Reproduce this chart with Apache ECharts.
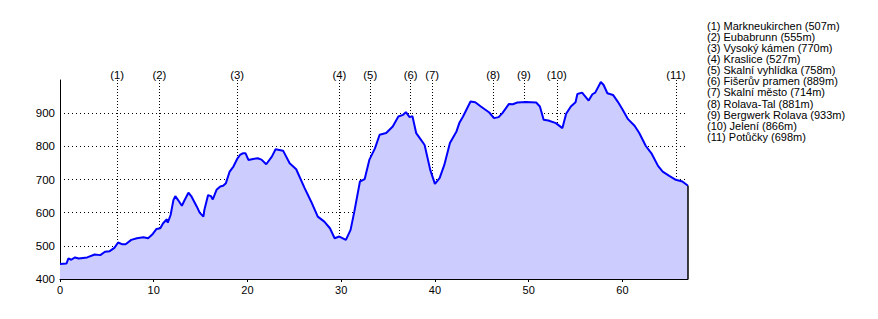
<!DOCTYPE html>
<html>
<head>
<meta charset="utf-8">
<script src="https://cdn.jsdelivr.net/npm/echarts@6/dist/echarts.min.js"></script>
<style>
html,body{margin:0;padding:0;background:#fff;}
#c{width:878px;height:319px;}
</style>
</head>
<body>
<div id="c"></div>
<script>
// distance along route (km)
var distKm = [0,0.7,0.9,1.2,1.6,2.0,2.9,3.7,4.3,4.8,5.3,5.8,6.2,6.6,7.0,7.6,8.2,8.9,9.4,9.9,
  10.3,10.7,11.0,11.4,11.5,11.8,12.1,12.3,12.6,13.0,13.3,13.7,14.0,14.6,14.9,15.3,15.4,15.8,16.1,16.3,
  16.7,17.1,17.4,17.7,18.1,18.5,18.9,19.2,19.5,19.8,20.1,20.6,21.1,21.5,22.0,22.6,23.0,23.8,24.5,25.2,
  26.1,26.8,27.5,28.2,28.8,29.3,29.8,30.5,31.0,31.4,32.0,32.5,33.0,33.6,34.1,34.8,35.5,36.1,36.6,36.9,
  37.3,37.6,38.0,38.5,38.9,39.5,40.0,40.5,41.0,41.6,42.3,42.6,43.0,43.8,44.3,44.9,45.5,45.8,46.3,46.8,
  47.2,47.9,48.3,48.8,49.7,50.8,51.2,51.6,52.1,52.9,53.6,54.0,54.5,55.0,55.2,55.7,55.9,56.4,56.8,57.1,
  57.7,58.0,58.4,59.0,59.5,60.0,60.6,61.3,61.8,62.5,63.1,63.8,64.3,65.0,65.7,66.4,67.0];
// elevation (m)
var elevM = [445,447,462,458,465,462,465,474,472,482,484,494,510,505,505,518,523,526,523,536,
  551,553,568,580,570,593,638,650,638,621,638,660,650,618,600,588,608,653,650,640,
  669,679,681,689,724,739,762,774,779,779,759,762,764,760,746,769,791,787,749,731,
  674,633,588,573,553,523,528,518,548,603,694,701,759,794,835,840,860,890,895,903,
  888,891,840,820,804,729,687,704,744,810,845,870,890,935,933,920,908,902,885,888,
  900,928,927,932,934,932,920,880,878,870,855,898,920,933,958,962,955,938,957,962,
  994,985,960,955,935,912,882,862,840,801,779,741,724,711,699,694,681];
// waypoints
var waypointKm = [6.1,10.6,18.9,29.8,33.1,37.4,39.7,46.2,49.5,53.0,65.7];
var waypointNames = ['Markneukirchen','Eubabrunn','Vysoký kámen','Kraslice','Skalní vyhlídka',
  'Fišerův pramen','Skalní město','Rolava-Tal','Bergwerk Rolava','Jelení','Potůčky'];
var waypointElev = [507,555,770,527,758,889,714,881,933,866,698];
// axis ticks
var yTicks = [400,500,600,700,800,900];
var xTicks = [0,10,20,30,40,50,60];

var FONT = 'Liberation Sans, Arial, sans-serif';
var profile = distKm.map(function(k,i){return [k, elevM[i]];});
var lastKm = distKm[distKm.length-1], lastElev = elevM[elevM.length-1];

var wpLines = waypointKm.map(function(k,i){
  return [{coord:[k,400], symbol:'none'},
          {coord:[k,1000], symbol:'none', label:{formatter:'('+(i+1)+')'}}];
});
var legendItems = waypointNames.map(function(n,i){
  return {type:'text', left:707, top:20 + i*11.15,
    style:{text:'('+(i+1)+') '+n+' ('+waypointElev[i]+'m)', fill:'#000', font:'11px '+FONT}};
});

var chart = echarts.init(document.getElementById('c'), null, {renderer:'svg'});
chart.setOption({
  animation:false,
  backgroundColor:'#fff',
  textStyle:{fontFamily:FONT},
  grid:{left:60, right:190, top:80, bottom:40, containLabel:false},
  xAxis:{type:'value', min:0, max:lastKm, interval:10,
    axisLine:{show:true, onZero:false, lineStyle:{color:'#000', width:1}},
    axisTick:{show:true, length:3, lineStyle:{color:'#000'}},
    axisLabel:{color:'#000', fontSize:11, fontFamily:FONT, margin:5, showMaxLabel:false,
      formatter:function(v){return xTicks.indexOf(v)>=0 ? String(v) : '';}},
    splitLine:{show:false}},
  yAxis:{type:'value', min:400, max:1000, interval:100,
    axisLine:{show:true, lineStyle:{color:'#000', width:1}},
    axisTick:{show:false},
    axisLabel:{color:'#000', fontSize:11.5, fontFamily:FONT, margin:5, showMaxLabel:false,
      formatter:function(v){return yTicks.indexOf(v)>=0 ? String(v) : '';}},
    splitLine:{show:true, showMinLine:false, showMaxLine:false,
      lineStyle:{color:'#000', type:[1,3], width:1}}},
  series:[
    {type:'line', data:profile, z:3, showSymbol:false, symbol:'none', smooth:false,
      lineStyle:{color:'#0000ff', width:2},
      areaStyle:{color:'#ccccff', opacity:1, origin:'start'},
      markLine:{silent:true, z:1, symbol:'none',
        lineStyle:{color:'#000', type:[1,2], width:1},
        label:{show:true, position:'end', distance:0, color:'#000', fontSize:11.3, fontFamily:FONT},
        data:wpLines}},
    {type:'line', data:[[lastKm,400],[lastKm,lastElev]], z:4, showSymbol:false, symbol:'none',
      lineStyle:{color:'#000', width:1.5}}
  ],
  graphic:legendItems
});
</script>
</body>
</html>
